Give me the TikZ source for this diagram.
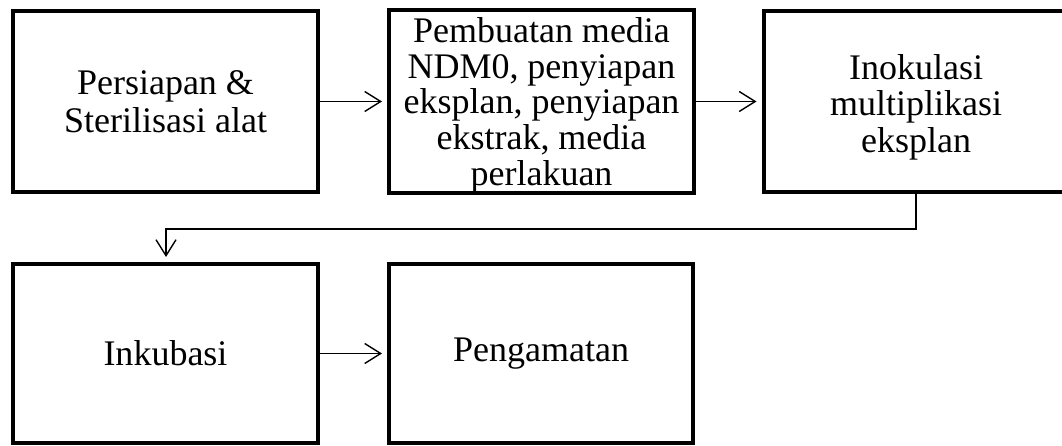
\documentclass[tikz,border=0pt]{standalone}
\usepackage{fontspec}
\setmainfont{Liberation Serif}
\usetikzlibrary{arrows.meta}
\begin{document}
\begin{tikzpicture}[x=1pt,y=-1pt,
  box/.style={draw=black, line width=4pt, fill=white, inner sep=0pt,
    minimum width=305pt, minimum height=181pt, align=center,
    font=\fontsize{36}{37}\selectfont},
  conn/.style={draw=black, line width=1.4pt,
    -{Straight Barb[length=16pt,width=20pt]}, shorten >=5pt}]
\clip (0,0) rectangle (1062,446);
\fill[white] (0,0) rectangle (1062,446);
\node[box, font=\fontsize{36}{37.7}\selectfont] (b1) at (165.5,101.5) {Persiapan \&\\Sterilisasi alat};
\node[box, font=\fontsize{36}{35.6}\selectfont] (b2) at (541.5,101.5) {\rule{0pt}{32.6pt}Pembuatan media\\NDM0, penyiapan\\eksplan, penyiapan\\ekstrak, media\\perlakuan};
\node[box, font=\fontsize{36}{36.7}\selectfont] (b3) at (916,101.5) {\rule{0pt}{36.6pt}Inokulasi\\multiplikasi\\eksplan};
\node[box, minimum height=179pt] (b4) at (165.5,353.5) {Inkubasi};
\node[box, minimum height=179pt, minimum width=304pt] (b5) at (541,353.5) {Pengamatan};
\coordinate (k1) at (916,229);
\coordinate (k2) at (166,229);
\draw[conn] (b1) -- (b2);
\draw[conn] (b2) -- (b3);
\draw[conn] (b4) -- (b5);
\draw[conn] (b3.south) -- (k1) -- (k2) -- (k2 |- b4.north);
\end{tikzpicture}
\end{document}
